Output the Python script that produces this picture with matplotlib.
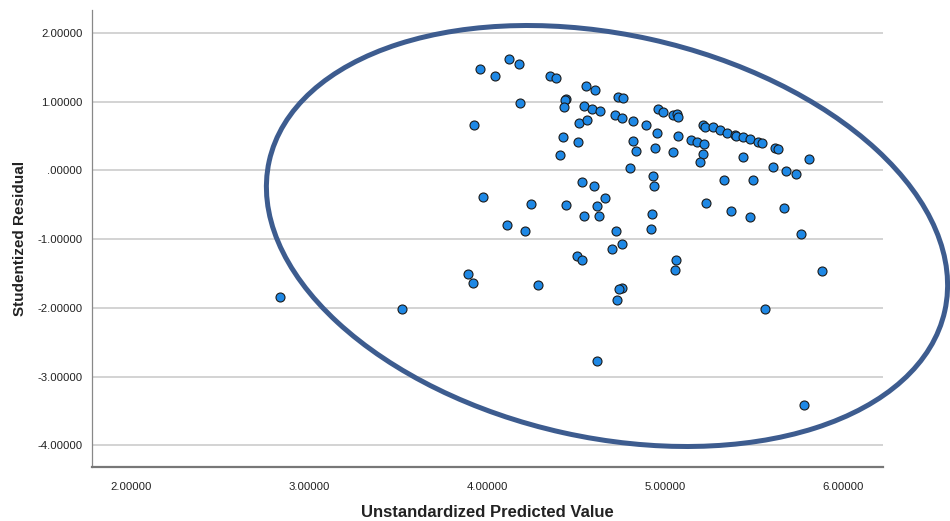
import matplotlib
matplotlib.use("Agg")
import matplotlib.pyplot as plt
from matplotlib.patches import Ellipse

# Unstandardized predicted values (x) and studentized residuals (y)
pred = [3.962, 4.045, 4.125, 4.181, 4.354, 4.388, 4.556, 4.607, 4.738, 4.762,
        4.444, 4.438, 4.187, 4.431, 4.543, 4.592, 4.637, 4.721, 4.757, 4.819,
        4.517, 4.562, 3.925, 4.425, 4.511, 4.822, 4.835, 4.412, 4.805, 4.534,
        4.603, 4.665, 3.978, 4.959, 4.987, 5.043, 5.069, 5.073, 4.892, 4.953,
        5.212, 5.225, 5.271, 5.311, 5.350, 5.392, 5.399, 5.437, 5.479, 5.524,
        5.547, 5.618, 5.637, 4.944, 5.074, 5.047, 5.148, 5.181, 5.219, 5.215,
        5.198, 5.437, 5.811, 5.607, 5.678, 5.736, 4.933, 4.937, 5.331, 5.494,
        5.229, 5.369, 5.476, 5.667, 4.929, 4.921, 5.762, 4.758, 5.062, 5.054,
        5.880, 4.758, 4.743, 4.733, 5.563, 5.781, 4.247, 4.442, 4.618, 4.547,
        4.631, 4.111, 4.213, 4.726, 4.704, 4.504, 4.534, 3.893, 3.923, 4.288,
        3.520, 2.839, 4.620]
resid = [1.477, 1.371, 1.619, 1.555, 1.376, 1.351, 1.230, 1.167, 1.066, 1.051,
         1.036, 1.026, 0.987, 0.920, 0.939, 0.895, 0.866, 0.803, 0.769, 0.721,
         0.691, 0.731, 0.662, 0.492, 0.415, 0.434, 0.284, 0.226, 0.032, -0.167,
         -0.221, -0.405, -0.390, 0.891, 0.856, 0.808, 0.818, 0.779, 0.667, 0.546,
         0.662, 0.638, 0.629, 0.585, 0.541, 0.512, 0.502, 0.488, 0.454, 0.419,
         0.396, 0.332, 0.309, 0.332, 0.498, 0.269, 0.440, 0.410, 0.386, 0.240,
         0.119, 0.197, 0.167, 0.055, -0.003, -0.055, -0.080, -0.221, -0.134, -0.134,
         -0.469, -0.585, -0.672, -0.546, -0.633, -0.852, -0.929, -1.074, -1.298, -1.444,
         -1.459, -1.710, -1.732, -1.889, -2.012, -3.409, -0.483, -0.502, -0.517, -0.662,
         -0.662, -0.798, -0.885, -0.881, -1.147, -1.249, -1.307, -1.502, -1.638, -1.667,
         -2.020, -1.837, -2.769]

x_ticks = [2.0, 3.0, 4.0, 5.0, 6.0]
y_ticks = [2.0, 1.0, 0.0, -1.0, -2.0, -3.0, -4.0]

def fmt(v):
    s = "%.5f" % v
    if s.startswith("0."):
        s = s[1:]
    elif s.startswith("-0."):
        s = "-" + s[2:]
    return s

plt.rcParams['font.family'] = ['Liberation Sans', 'DejaVu Sans']

fig = plt.figure(figsize=(9.5, 5.21), dpi=100)
ax = fig.add_axes([92/950, 1-467/521, (883-92)/950, (467-10)/521])

ax.scatter(pred, resid, s=42, c='#1e88e5', edgecolors='#1a1a1a',
           linewidths=0.8, zorder=3)

ax.set_xlim(1.781, 6.225)
ax.set_ylim(-4.316, 2.336)
ax.set_xticks(x_ticks)
ax.set_xticklabels([fmt(v) for v in x_ticks])
ax.set_yticks(y_ticks)
ax.set_yticklabels([fmt(v) for v in y_ticks])
ax.tick_params(axis='both', length=0, labelsize=8.2, colors='#222222')
ax.tick_params(axis='y', pad=7)
ax.tick_params(axis='x', pad=11)

ax.grid(axis='y', color='#cccccc', linewidth=1.2, zorder=0)
ax.set_axisbelow(True)
for side in ['top', 'right']:
    ax.spines[side].set_visible(False)
ax.spines['left'].set_color('#888888')
ax.spines['left'].set_linewidth(0.9)
ax.spines['bottom'].set_color('#777777')
ax.spines['bottom'].set_linewidth(1.6)

ax.set_xlabel('Unstandardized Predicted Value', fontsize=12, fontweight='bold',
              color='#222222', labelpad=9)
ax.set_ylabel('Studentized Residual', fontsize=11, fontweight='bold',
              color='#222222', labelpad=7)

# hand-drawn annotation ellipse
ell = Ellipse((6.07, (521-236)/100), width=6.92, height=4.03, angle=-12.5,
              transform=fig.dpi_scale_trans, fill=False, edgecolor='#3d5c8f',
              linewidth=3.6, zorder=5, clip_on=False)
fig.patches.append(ell)

fig.savefig('out.png', dpi=100)
